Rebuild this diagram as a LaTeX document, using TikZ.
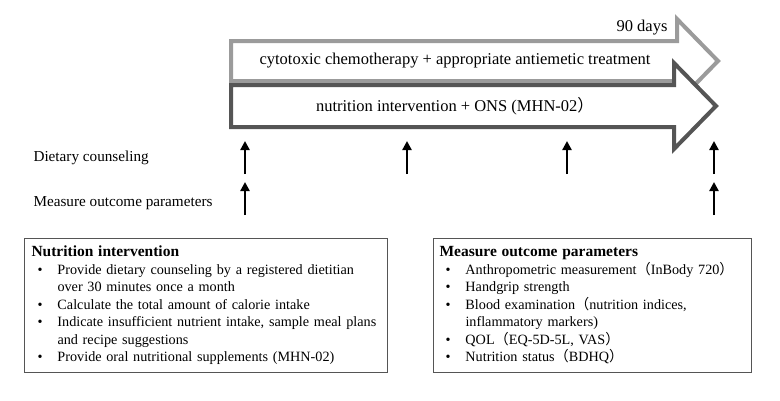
\documentclass[tikz,border=0pt]{standalone}
\usepackage{fontspec}
\setmainfont{Liberation Serif}
\newfontfamily\cjk{Noto Sans CJK JP}
\usetikzlibrary{arrows.meta,positioning}

\definecolor{chemogray}{HTML}{9B9B9B}
\definecolor{nutrgray}{HTML}{555555}

% full-width brackets as in the original
\newcommand{\lbrk}{{\cjk （}}
\newcommand{\rbrk}{{\cjk ）}}
% one bullet of a box list
\newcommand{\bitem}[1]{\par\noindent\hangindent=26pt\hangafter=1\makebox[26pt][l]{\hspace{6pt}\textbullet}#1}

\tikzset{
  phase/.style={line width=4pt, fill=white, line join=miter},
  phasetext/.style={font=\fontsize{16.5}{19}\selectfont},
  visit/.style={line width=2.4pt, -{Triangle[length=9pt,width=9pt]}},
  rowlabel/.style={anchor=west, font=\fontsize{15.2}{17}\selectfont},
  infobox/.style={draw=nutrgray, line width=1pt, anchor=north west, align=left,
    font=\fontsize{14.2}{17.5}\selectfont, minimum height=134pt}
}

\begin{document}
\begin{tikzpicture}[x=1pt,y=-1pt]
  \useasboundingbox (0,0) rectangle (780,400);

  % treatment periods
  \draw[phase, draw=chemogray] (231,41) -- (677,41) -- (677,19) -- (718,61)
      -- (677,103) -- (677,81) -- (231,81) -- cycle;
  \draw[phase, draw=nutrgray] (231,85) -- (674,85) -- (674,63) -- (716,106)
      -- (674,149) -- (674,127) -- (231,127) -- cycle;

  \node (days)  [phasetext, anchor=east] at (671,28) {90 days};
  \node (chemo) [phasetext] at (455,61)
      {cytotoxic chemotherapy + appropriate antiemetic treatment};
  \node (nutr)  [phasetext] at (455,106)
      {nutrition intervention + ONS (MHN-02\rbrk};

  % visits
  \node (dclabel) [rowlabel] at (30,158) {Dietary counseling};
  \node (molabel) [rowlabel] at (30,203) {Measure outcome parameters};

  \foreach \x [count=\i] in {245,407,567,714} {
    \coordinate (dc\i s) at (\x,174);
    \coordinate (dc\i e) at (\x,141);
    \draw[visit] (dc\i s) -- (dc\i e);
  }
  \foreach \x [count=\i] in {245,714} {
    \coordinate (mo\i s) at (\x,215);
    \coordinate (mo\i e) at (\x,182);
    \draw[visit] (mo\i s) -- (mo\i e);
  }

  % details
  \node (nibox) [infobox, minimum width=363pt, text width=349pt, inner xsep=7pt] at (24,238) {%
    {\fontsize{15.5}{20}\selectfont\bfseries Nutrition intervention}
    \bitem{Provide dietary counseling by a registered dietitian\newline over 30 minutes once a month}
    \bitem{Calculate the total amount of calorie intake}
    \bitem{Indicate insufficient nutrient intake, sample meal plans\newline and recipe suggestions}
    \bitem{Provide oral nutritional supplements (MHN-02)}};

  \node (mobox) [infobox, minimum width=318pt, text width=306pt, inner xsep=6pt] at (433,238) {%
    {\fontsize{15.5}{20}\selectfont\bfseries Measure outcome parameters}
    \bitem{Anthropometric measurement\lbrk InBody 720\rbrk}
    \bitem{Handgrip strength}
    \bitem{Blood examination\lbrk nutrition indices,\newline inflammatory markers)}
    \bitem{QOL\lbrk EQ-5D-5L, VAS\rbrk}
    \bitem{Nutrition status\lbrk BDHQ\rbrk}};
\end{tikzpicture}
\end{document}
